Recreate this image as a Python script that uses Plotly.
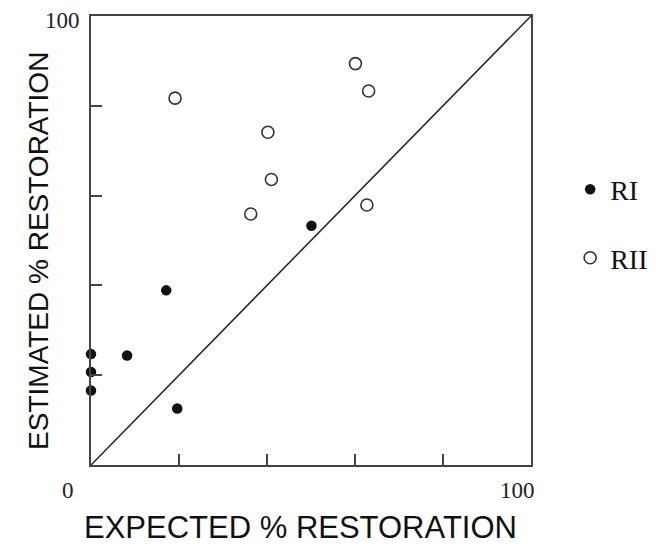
import plotly.graph_objects as go

# Data
ri_expected = [0, 0, 0, 8.2, 19.6, 17.1, 50.1]
ri_estimated = [24.7, 20.7, 16.6, 24.4, 12.6, 38.9, 53.3]

rii_expected = [19.1, 60.1, 63.1, 40.2, 41.0, 36.3, 62.7]
rii_estimated = [81.7, 89.4, 83.3, 74.1, 63.6, 55.9, 57.9]

identity = [0, 100]
tick_vals = [20, 40, 60, 80]
x_title = "EXPECTED % RESTORATION"
y_title = "ESTIMATED % RESTORATION"

fig = go.Figure()
fig.add_trace(go.Scatter(x=identity, y=identity, mode="lines",
                         line=dict(color="#222", width=1.5),
                         showlegend=False, hoverinfo="skip"))
fig.add_trace(go.Scatter(x=ri_expected, y=ri_estimated, mode="markers", name="RI",
                         legendgroup="a", cliponaxis=False,
                         marker=dict(symbol="circle", size=10.5, color="#111",
                                     line=dict(width=0))))
fig.add_trace(go.Scatter(x=rii_expected, y=rii_estimated, mode="markers", name="RII",
                         legendgroup="b", cliponaxis=False,
                         marker=dict(symbol="circle-open", size=12, color="#333",
                                     line=dict(width=1.6, color="#333"))))

axis_common = dict(range=[0, 100], showgrid=False, zeroline=False,
                   showline=True, linecolor="#444", linewidth=1.5, mirror=True,
                   ticks="inside", ticklen=11, tickwidth=1.5, tickcolor="#444",
                   tickvals=tick_vals, showticklabels=False)

fig.update_layout(
    width=680, height=539,
    margin=dict(l=83, r=157, t=6, b=82),
    paper_bgcolor="white", plot_bgcolor="white",
    xaxis=axis_common, yaxis=axis_common,
    legend=dict(x=1.089, y=0.669, xanchor="left", yanchor="top",
                font=dict(family="Liberation Serif", size=28, color="#111"),
                tracegroupgap=29, bgcolor="rgba(0,0,0,0)"),
    showlegend=True,
)

serif = dict(family="Liberation Serif", size=23, color="#222")
fig.add_annotation(x=0, y=0, text="0", showarrow=False, font=serif,
                   xshift=-23, yshift=-25)
fig.add_annotation(x=100, y=0, text="100", showarrow=False, font=serif,
                   xshift=-14, yshift=-25)
fig.add_annotation(x=0, y=100, text="100", showarrow=False, font=serif,
                   xshift=-29, yshift=-4)
fig.add_annotation(xref="paper", yref="paper", x=0.475, y=-0.1397, text=x_title,
                   showarrow=False, yanchor="middle",
                   font=dict(family="Liberation Sans", size=31, color="#111"))
fig.add_annotation(xref="paper", yref="paper", x=-0.118, y=0.477, text=y_title,
                   showarrow=False, textangle=-90, xanchor="center",
                   font=dict(family="Liberation Sans", size=28, color="#111"))

fig.write_html("out.html")
